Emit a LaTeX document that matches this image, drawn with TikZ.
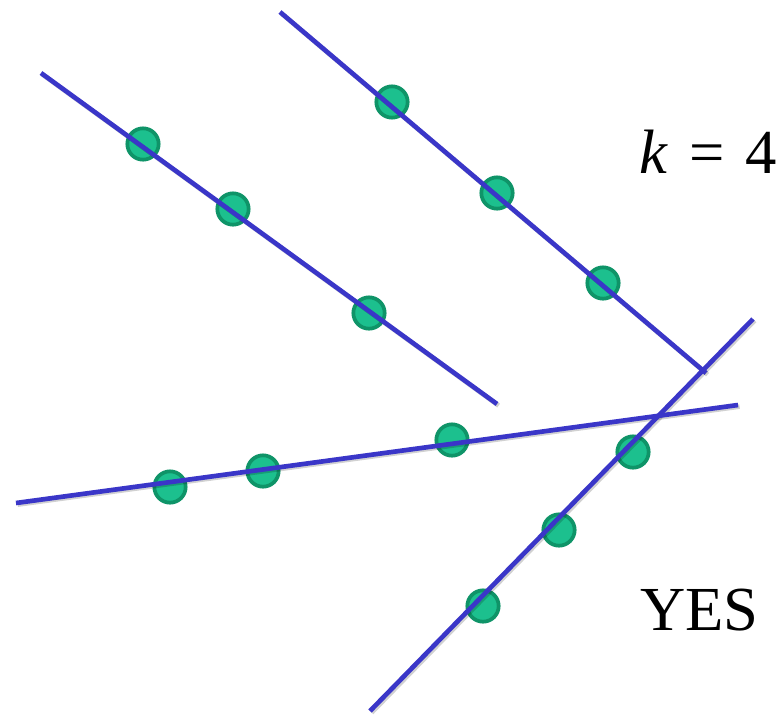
\documentclass[tikz,border=0pt]{standalone}
\usepackage{fontspec}
\setmainfont{LiberationSerif}[Extension=.ttf,UprightFont=*-Regular,ItalicFont=*-Italic,BoldFont=*-Bold]
\definecolor{lineblue}{HTML}{3A36C8}
\definecolor{dotfill}{HTML}{1CC08E}
\definecolor{dotedge}{HTML}{0F9468}
\begin{document}
\begin{tikzpicture}[x=0.75pt,y=-0.75pt,
  dot/.style={circle,minimum size=23.5pt,inner sep=0pt,fill=dotfill,draw=dotedge,line width=2.8pt},
  ln/.style={draw=lineblue,line width=3.5pt},
  shadowln/.style={draw=black,opacity=0.18,line width=3.5pt},
  lbl/.style={inner sep=0pt,font=\fontsize{47}{52}\selectfont}]
\useasboundingbox (0,0) rectangle (780,715);
% dots
\node[dot] (a1) at (143,144) {};
\node[dot] (a2) at (233,209) {};
\node[dot] (a3) at (369,313) {};
\node[dot] (b1) at (392,102) {};
\node[dot] (b2) at (497,193) {};
\node[dot] (b3) at (603,283) {};
\node[dot] (c1) at (170,487) {};
\node[dot] (c2) at (263,471) {};
\node[dot] (c3) at (452,440) {};
\node[dot] (d1) at (633,452) {};
\node[dot] (d2) at (559,530) {};
\node[dot] (d3) at (483,606) {};
% line ends
\coordinate (p1) at (41,73);  \coordinate (q1) at (497,404);
\coordinate (p2) at (280,12); \coordinate (q2) at (706,373);
\coordinate (p3) at (16,503); \coordinate (q3) at (738,405);
\coordinate (p4) at (370,711);\coordinate (q4) at (753,319);
% shadows
\foreach \p/\q in {p1/q1,p2/q2,p3/q3,p4/q4}
  \draw[shadowln,transform canvas={shift={(1.2pt,-1.2pt)}}] (\p) -- (\q);
% lines
\foreach \p/\q in {p1/q1,p2/q2,p3/q3,p4/q4}
  \draw[ln] (\p) -- (\q);
% labels
\node[lbl,anchor=base west] (k) at (639,173) {\textit{k}\hspace{0.34em}=\hspace{0.34em}4};
\node[lbl,anchor=base west] (yes) at (640,630) {YES};
\end{tikzpicture}
\end{document}
